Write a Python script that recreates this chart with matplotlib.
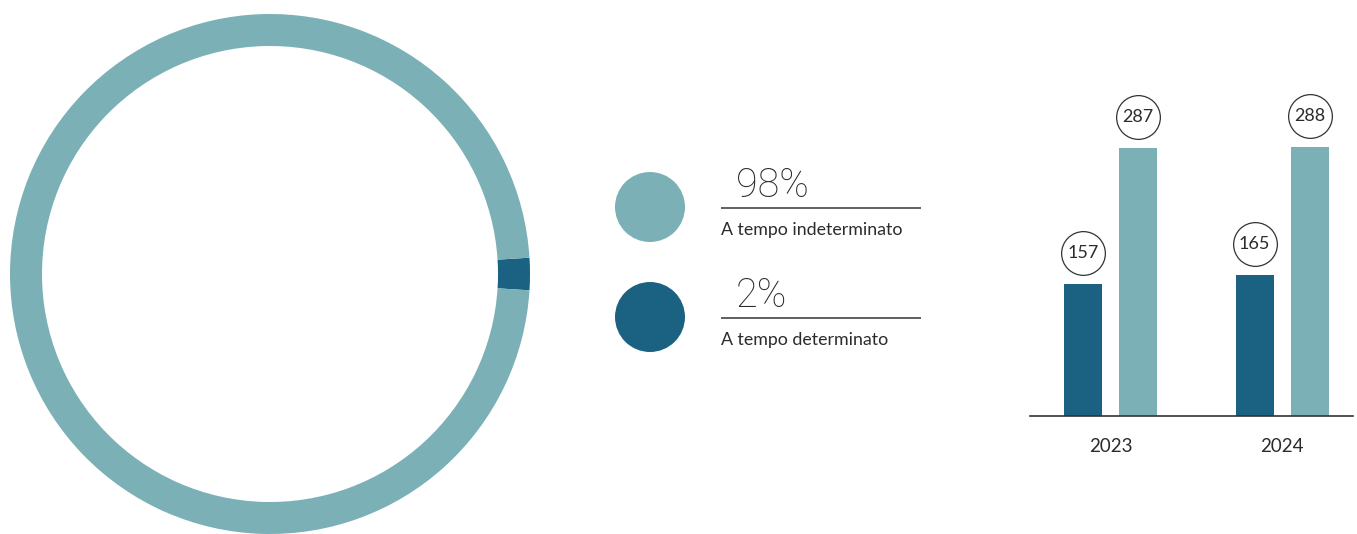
import matplotlib.pyplot as plt
import matplotlib.transforms as mtransforms
from matplotlib.patches import Circle
import numpy as np

# ---------------------------------------------------------------------------
# data
# ---------------------------------------------------------------------------
contract_labels = ['A tempo indeterminato', 'A tempo determinato']
contract_pct = [98, 2]

years = ['2023', '2024']
series_dark = [157, 165]
series_light = [287, 288]

# ---------------------------------------------------------------------------
# style
# ---------------------------------------------------------------------------
LIGHT = '#7bb1b6'
DARK = '#1b6282'
TEXT = '#2b2b2b'
plt.rcParams['font.family'] = ['Lato', 'DejaVu Sans']

W, H, DPI = 1357, 534, 100
fig = plt.figure(figsize=(W / DPI, H / DPI), dpi=DPI)
fig.patch.set_facecolor('white')


def px_axes(left, top, width, height):
    """axes placed in pixel coordinates (origin top-left)"""
    return fig.add_axes([left / W, (H - top - height) / H, width / W, height / H])


# ---------------------------------------------------------------------------
# donut
# ---------------------------------------------------------------------------
ax_d = px_axes(10, 14, 520, 520)
# dark slice centred on the 3 o'clock position
start = -contract_pct[1] / 100 * 360 / 2
ax_d.pie(contract_pct[::-1], colors=[DARK, LIGHT], startangle=start,
         counterclock=True, radius=1.0,
         wedgeprops=dict(width=32 / 260, edgecolor='none'))
ax_d.set_xlim(-1, 1)
ax_d.set_ylim(-1, 1)
ax_d.set_aspect('equal')
ax_d.axis('off')

# ---------------------------------------------------------------------------
# legend block (pixel coordinates)
# ---------------------------------------------------------------------------
ax_l = fig.add_axes([0, 0, 1, 1])
ax_l.set_xlim(0, W)
ax_l.set_ylim(H, 0)
ax_l.axis('off')

row_y = [207, 317]
for i, (lab, pct) in enumerate(zip(contract_labels, contract_pct)):
    col = [LIGHT, DARK][i]
    y = row_y[i]
    ax_l.add_patch(Circle((650, y), 35, facecolor=col, edgecolor='none'))
    ax_l.text(736, y - 10, f'{pct}%', fontsize=28.5, fontweight='light',
              family=['Roboto', 'DejaVu Sans'],
              color=TEXT, ha='left', va='baseline')
    ax_l.plot([721, 921], [y + 1, y + 1], color='#444444', lw=1.2,
              solid_capstyle='butt')
    ax_l.text(721, y + 28, lab, fontsize=12.8, color=TEXT,
              ha='left', va='baseline')

# ---------------------------------------------------------------------------
# bars
# ---------------------------------------------------------------------------
ymin, ymax = 30, 320
base_y = 416
ppu = 267.6 / (287 - ymin)
ax_b_h = (ymax - ymin) * ppu
ax_b = px_axes(1030, base_y - ax_b_h, 323, ax_b_h)

x = np.arange(len(years))
off = 27.5 / 172
bw = 38 / 172
ax_b.bar(x - off, series_dark, bw, color=DARK, edgecolor='none')
ax_b.bar(x + off, series_light, bw, color=LIGHT, edgecolor='none')
ax_b.set_xlim(-(1110.5 - 1030) / 172, 1 + (1353 - 1282) / 172)
ax_b.set_ylim(ymin, ymax)

lab_tr = mtransforms.offset_copy(ax_b.transData, fig=fig, x=0, y=31, units='dots')
for xs, vals in [(x - off, series_dark), (x + off, series_light)]:
    for xi, v in zip(xs, vals):
        ax_b.plot(xi, v, marker='o', ms=31.5, mfc='white', mec='#333333',
                  mew=0.9, transform=lab_tr, clip_on=False, zorder=5)
        ax_b.text(xi, v, str(v), transform=lab_tr, ha='center', va='center',
                  fontsize=13, color=TEXT, zorder=6, clip_on=False)

for s in ['top', 'right', 'left']:
    ax_b.spines[s].set_visible(False)
ax_b.spines['bottom'].set_color('#333333')
ax_b.spines['bottom'].set_linewidth(1.2)
ax_b.set_yticks([])
ax_b.set_xticks(x)
ax_b.set_xticklabels(years)
ax_b.tick_params(axis='x', length=0, pad=16, labelsize=13.5, colors=TEXT)
ax_b.set_facecolor('none')

fig.savefig('out.png', dpi=DPI, facecolor='white')
